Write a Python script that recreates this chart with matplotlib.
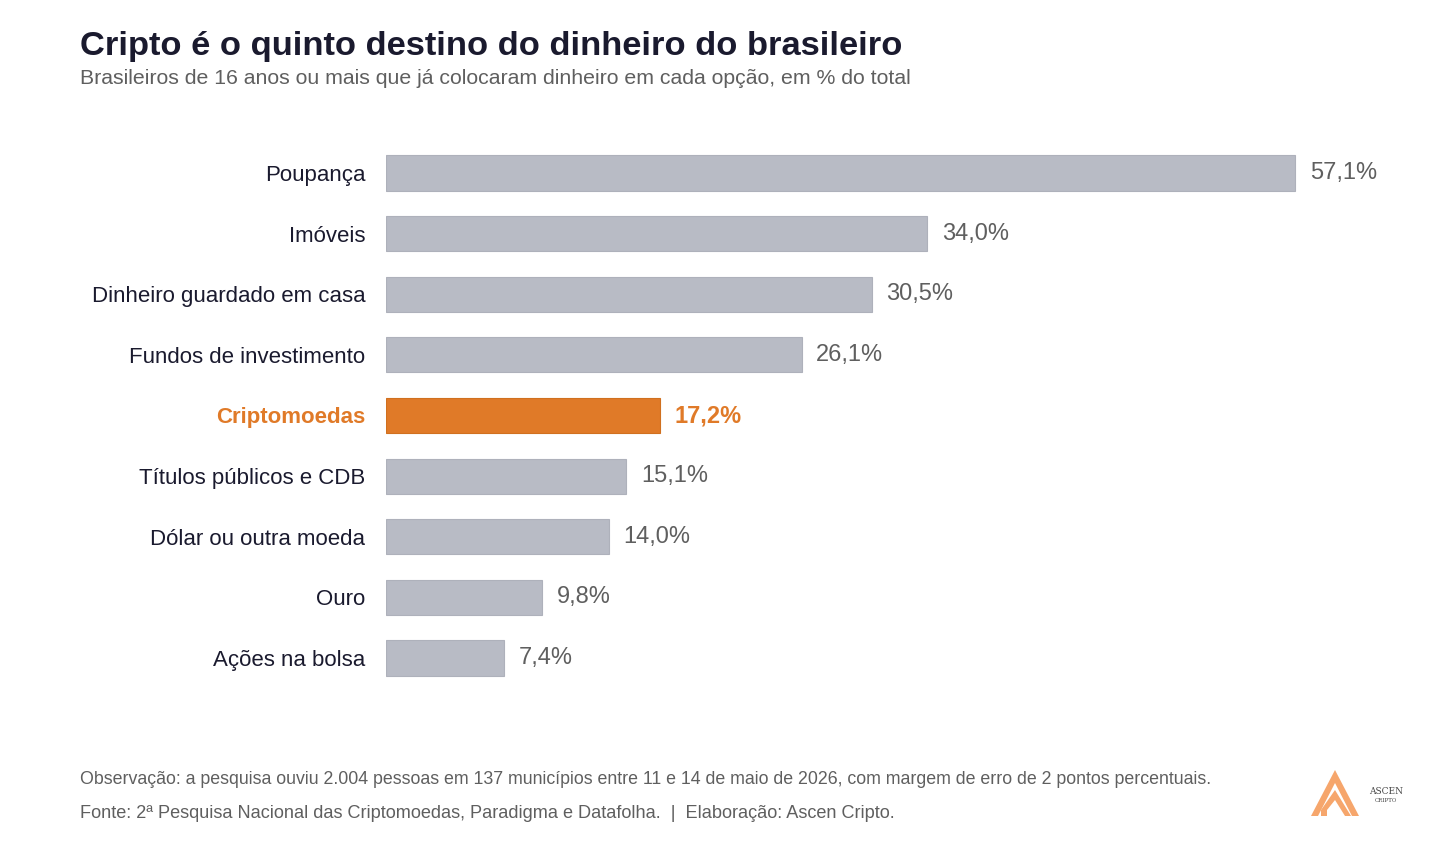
import matplotlib.pyplot as plt
from matplotlib.patches import Polygon

plt.rcParams['font.family'] = ['Liberation Sans', 'DejaVu Sans']

# data
categories = ["Poupança", "Imóveis", "Dinheiro guardado em casa",
              "Fundos de investimento", "Criptomoedas",
              "Títulos públicos e CDB", "Dólar ou outra moeda", "Ouro",
              "Ações na bolsa"]
values = [57.1, 34.0, 30.5, 26.1, 17.2, 15.1, 14.0, 9.8, 7.4]
highlight = "Criptomoedas"

grey = "#b8bbc5"
orange = "#e07a28"
dark = "#1a1a2e"
txt_grey = "#5f5f5f"

W, H = 1456, 844
fig = plt.figure(figsize=(W / 100, H / 100), dpi=100)

# axes placed so the bars line up with the reference
ax_left, ax_right = 386, 1386
ax_top, ax_bot = 142.7, 688.3
ax = fig.add_axes([ax_left / W, 1 - ax_bot / H,
                   (ax_right - ax_left) / W, (ax_bot - ax_top) / H])

ypos = list(range(len(categories)))
colors = [orange if c == highlight else grey for c in categories]
edges = ["#d0701f" if c == highlight else "#aeb1bb" for c in categories]
ax.barh(ypos, values, height=0.58, color=colors, edgecolor=edges,
        linewidth=0.8)

ax.set_xlim(0, (ax_right - ax_left) / 15.92)
ax.set_ylim(len(categories) - 0.5, -0.5)
ax.set_yticks(ypos)
ax.set_yticklabels(categories, fontsize=16)
ax.set_xticks([])
ax.tick_params(axis="y", length=0, pad=15)
for lab, c in zip(ax.get_yticklabels(), categories):
    if c == highlight:
        lab.set_color(orange)
        lab.set_fontweight("bold")
    else:
        lab.set_color(dark)
for s in ax.spines.values():
    s.set_visible(False)

for y, v, c in zip(ypos, values, categories):
    label = f"{v:.1f}%".replace(".", ",")
    if c == highlight:
        ax.annotate(label, (v, y), xytext=(10.5, 0), textcoords="offset points",
                    va="center", ha="left", fontsize=17, color=orange,
                    fontweight="bold")
    else:
        ax.annotate(label, (v, y), xytext=(10.5, 0), textcoords="offset points",
                    va="center", ha="left", fontsize=17, color=txt_grey)

# title, subtitle, notes
fig.text(80 / W, 1 - 46 / H, "Cripto é o quinto destino do dinheiro do brasileiro",
         fontsize=24.8, fontweight="bold", color=dark, va="center")
fig.text(80 / W, 1 - 79 / H,
         "Brasileiros de 16 anos ou mais que já colocaram dinheiro em cada opção, em % do total",
         fontsize=15.35, color=txt_grey, va="center")
fig.text(80 / W, 1 - 779 / H,
         "Observação: a pesquisa ouviu 2.004 pessoas em 137 municípios entre 11 e 14 de maio de 2026, "
         "com margem de erro de 2 pontos percentuais.",
         fontsize=12.78, color=txt_grey, va="center")
fig.text(80 / W, 1 - 814 / H,
         "Fonte: 2ª Pesquisa Nacional das Criptomoedas, Paradigma e Datafolha.  |  Elaboração: Ascen Cripto.",
         fontsize=13.1, color=txt_grey, va="center")

# logo
lx = fig.add_axes([1305 / W, 1 - 820 / H, 60 / W, 55 / H])
lx.set_xlim(0, 60)
lx.set_ylim(0, 55)
lx.axis("off")
logo_c = "#f6a66c"
lx.add_patch(Polygon([(6, 4), (30, 50), (54, 4), (47, 4), (30, 37), (13, 4)],
                     closed=True, color=logo_c, lw=0))
lx.add_patch(Polygon([(16, 10), (30, 30), (46, 4), (40, 4), (30, 20), (22, 10)],
                     closed=True, color=logo_c, lw=0))
lx.add_patch(Polygon([(16, 10), (22, 10), (22, 4), (16, 4)],
                     closed=True, color=logo_c, lw=0))
fig.text(1386 / W, 1 - 792 / H, "ASCEN", fontsize=6.5, family="DejaVu Serif",
         color="#444444", ha="center", va="center")
fig.text(1386 / W, 1 - 801 / H, "CRIPTO", fontsize=4, family="DejaVu Serif",
         color="#444444", ha="center", va="center")

fig.savefig("out.png", dpi=100)
